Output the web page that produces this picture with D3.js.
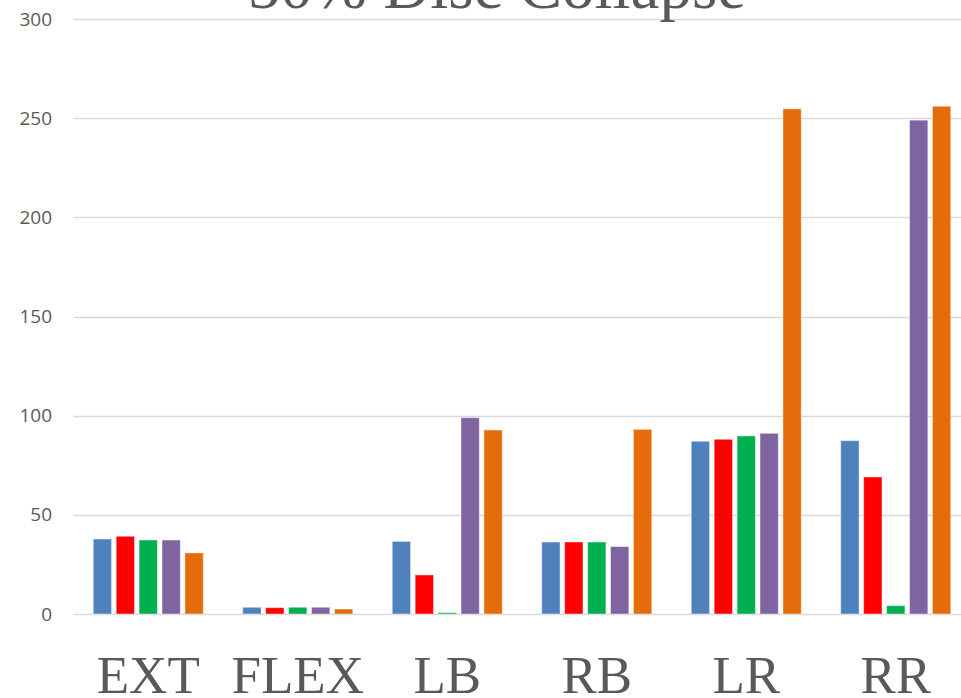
<!DOCTYPE html>
<html>
<head>
<meta charset="utf-8">
<script src="https://cdn.jsdelivr.net/npm/d3@7"></script>
<style>
  html, body { margin: 0; padding: 0; background: #fff; overflow: hidden; }
  svg { display: block; }
</style>
</head>
<body>
<svg id="chart" width="961" height="698"></svg>
<script>
const title = "50% Disc Collapse";
const categories = ["EXT", "FLEX", "LB", "RB", "LR", "RR"];
const seriesNames = ["Series 1", "Series 2", "Series 3", "Series 4", "Series 5"];
const series1 = [37.8, 3.4, 36.6, 36.3, 87.1, 87.4];
const series2 = [39.2, 3.2, 19.7, 36.3, 88.1, 69.1];
const series3 = [37.3, 3.4, 0.7, 36.3, 89.8, 4.2];
const series4 = [37.3, 3.4, 99.0, 34.0, 91.1, 249.0];
const series5 = [30.8, 2.5, 92.8, 93.1, 254.7, 256.0];
const yTicks = [0, 50, 100, 150, 200, 250, 300];
const colors = ["#4f81bd", "#ff0000", "#00b050", "#8064a2", "#e46c0a"];

const allSeries = [series1, series2, series3, series4, series5];
const svg = d3.select("#chart");

const plotLeft = 73.5, plotRight = 961;
const y = d3.scaleLinear().domain([0, 300]).range([614, 19]);
const x0 = d3.scaleBand().domain(categories).range([73.5, 970.5])
  .paddingInner(0.264).paddingOuter(0.132);
const x1 = d3.scaleBand().domain(seriesNames).range([0, x0.bandwidth()]).paddingInner(0.2);

// gridlines
svg.append("g").selectAll("line").data(yTicks).join("line")
  .attr("x1", plotLeft).attr("x2", plotRight)
  .attr("y1", d => Math.round(y(d)) + 0.5).attr("y2", d => Math.round(y(d)) + 0.5)
  .attr("stroke", "#d9d9d9").attr("stroke-width", 1.3);

// y axis labels
svg.append("g").selectAll("text").data(yTicks).join("text")
  .attr("x", 52).attr("y", d => y(d))
  .attr("dy", "0.35em")
  .attr("text-anchor", "end")
  .attr("font-family", "'Open Sans', 'Noto Sans', sans-serif")
  .attr("font-size", 19)
  .attr("fill", "#595959")
  .text(d => d);

// bars
const groups = svg.append("g").selectAll("g").data(categories).join("g")
  .attr("transform", c => `translate(${x0(c)},0)`);
groups.selectAll("rect")
  .data((c, ci) => seriesNames.map((s, si) => ({ s, si, v: allSeries[si][ci] })))
  .join("rect")
  .attr("x", d => x1(d.s))
  .attr("width", x1.bandwidth())
  .attr("y", d => y(d.v))
  .attr("height", d => y(0) - y(d.v))
  .attr("fill", d => colors[d.si])
  .attr("stroke", "#ffffff").attr("stroke-opacity", 0.45).attr("stroke-width", 1);

// category labels
svg.append("g").selectAll("text").data(categories).join("text")
  .attr("x", c => x0(c) + x0.bandwidth() / 2)
  .attr("y", 693)
  .attr("text-anchor", "middle")
  .attr("font-family", "'Liberation Serif', 'Times New Roman', serif")
  .attr("font-size", 53)
  .attr("fill", "#595959")
  .text(c => c);

// title
svg.append("text")
  .attr("x", 497).attr("y", 8)
  .attr("text-anchor", "middle")
  .attr("font-family", "'Liberation Serif', 'Times New Roman', serif")
  .attr("font-size", 65)
  .attr("fill", "#595959")
  .text(title);
</script>
</body>
</html>
